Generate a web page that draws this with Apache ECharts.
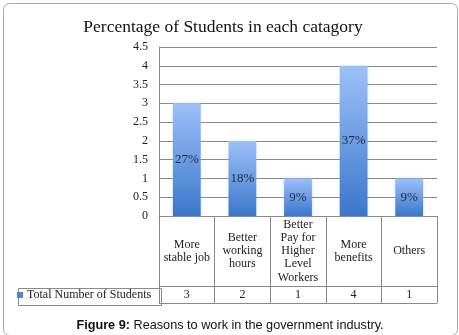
<!DOCTYPE html>
<html>
<head>
<meta charset="utf-8">
<script src="https://cdn.jsdelivr.net/npm/echarts@6/dist/echarts.min.js"></script>
<style>
  html, body { margin: 0; padding: 0; background: #fff; }
  #chart { width: 459px; height: 335px; }
</style>
</head>
<body>
<div id="chart"></div>
<script>
// Reasons given for working in the government industry
const categories = [
  'More\nstable job',
  'Better\nworking\nhours',
  'Better\nPay for\nHigher\nLevel\nWorkers',
  'More\nbenefits',
  'Others'
];
const studentCounts = [3, 2, 1, 4, 1];
const shareLabels = ['27%', '18%', '9%', '37%', '9%'];
const yTicks = { min: 0, max: 4.5, interval: 0.5 };
const seriesName = 'Total Number of Students';

const serif = 'Liberation Serif';
const lineColor = '#8a8a8a';

const chart = echarts.init(document.getElementById('chart'), null, { renderer: 'canvas' });

const barGradient = new echarts.graphic.LinearGradient(0, 0, 0, 1, [
  { offset: 0, color: '#9dc0f9' },
  { offset: 1, color: '#3b77cb' }
]);

chart.setOption({
  animation: false,
  backgroundColor: '#fff',
  title: [
    {
      text: 'Percentage of Students in each catagory',
      left: 218, top: 13, textAlign: 'center',
      textStyle: { fontFamily: serif, fontSize: 17.5, fontWeight: 'normal', color: '#111' }
    },
    {
      text: '{b|Figure 9:} Reasons to work in the government industry.',
      left: 225, top: 314, textAlign: 'center',
      textStyle: {
        fontFamily: 'Liberation Sans', fontSize: 12.7, fontWeight: 'normal', color: '#111',
        rich: { b: { fontFamily: 'Liberation Sans', fontSize: 12.7, fontWeight: 'bold', color: '#111' } }
      }
    }
  ],
  legend: {
    left: 12, top: 284,
    icon: 'rect', itemWidth: 6, itemHeight: 6, itemGap: 4,
    data: [{ name: seriesName, itemStyle: { color: '#4f86d6' } }],
    textStyle: { fontFamily: serif, fontSize: 12, color: '#222', padding: [0, 0, 0, -1] },
    selectedMode: false
  },
  grid: { left: 159, right: 22, top: 47, bottom: 119, containLabel: false },
  xAxis: [
    {
      type: 'category', data: categories, position: 'bottom',
      axisLine: { show: true, lineStyle: { color: lineColor } },
      axisTick: { show: true, length: 87, interval: 0, lineStyle: { color: lineColor } },
      axisLabel: {
        interval: 0, margin: 35, verticalAlign: 'middle', lineHeight: 13.3,
        fontFamily: serif, fontSize: 12, color: '#222'
      }
    },
    {
      type: 'category', data: categories, position: 'bottom', offset: 70,
      axisLine: { show: true, lineStyle: { color: lineColor } },
      axisTick: { show: false },
      axisLabel: {
        interval: 0, margin: 9, verticalAlign: 'middle',
        fontFamily: serif, fontSize: 12, color: '#222',
        formatter: (v, i) => String(studentCounts[i])
      }
    },
    {
      type: 'category', data: categories, position: 'bottom', offset: 87,
      axisLine: { show: true, lineStyle: { color: lineColor } },
      axisTick: { show: false },
      axisLabel: { show: false }
    }
  ],
  yAxis: {
    type: 'value', min: yTicks.min, max: yTicks.max, interval: yTicks.interval,
    axisLine: { show: true, lineStyle: { color: lineColor } },
    axisTick: { show: false },
    splitLine: { show: true, lineStyle: { color: lineColor } },
    axisLabel: { margin: 11, fontFamily: serif, fontSize: 12, color: '#222' }
  },
  series: [
    {
      name: seriesName, type: 'bar', data: studentCounts, barWidth: '50%',
      itemStyle: {
        color: barGradient,
        shadowBlur: 3, shadowColor: 'rgba(120,160,230,0.35)'
      },
      label: {
        show: true, position: 'inside',
        fontFamily: serif, fontSize: 13, color: '#1e2a3a',
        formatter: (p) => shareLabels[p.dataIndex]
      }
    }
  ],
  graphic: [
    {
      type: 'rect', left: 1, top: 1, silent: true,
      shape: { width: 454, height: 332, r: 6 },
      style: { fill: 'none', stroke: '#a8a8a8', lineWidth: 1 }
    },
    {
      type: 'rect', left: 16, top: 286, silent: true, z: -1,
      shape: { width: 143, height: 17 },
      style: { fill: 'none', stroke: lineColor, lineWidth: 1 }
    }
  ]
});
</script>
</body>
</html>
